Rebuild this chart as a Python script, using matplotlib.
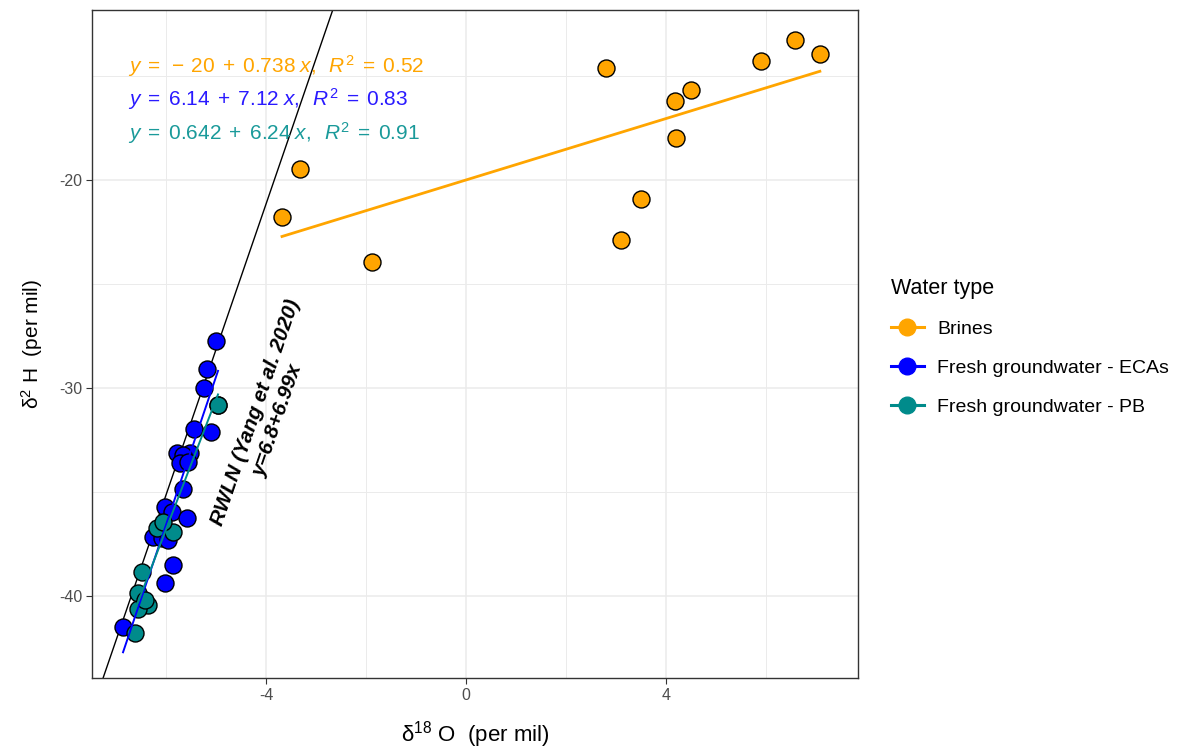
import numpy as np
import matplotlib
matplotlib.use("Agg")
import matplotlib.pyplot as plt
from matplotlib.lines import Line2D

plt.rcParams["font.family"] = ["Liberation Sans", "DejaVu Sans"]
plt.rcParams["mathtext.fontset"] = "custom"
plt.rcParams["mathtext.rm"] = "Liberation Sans"
plt.rcParams["mathtext.it"] = "Liberation Sans:italic"
plt.rcParams["mathtext.bf"] = "Liberation Sans:bold"
plt.rcParams["axes.unicode_minus"] = False

# -----------------------------
# Isotope data (d18O, d2H)
# -----------------------------
brines_o = [-3.68, -3.32, -1.88, 2.80, 3.10, 3.50, 4.18, 4.20, 4.50, 5.90, 6.58, 7.08]
brines_h = [-21.78, -19.47, -23.94, -14.62, -22.88, -20.91, -16.20, -17.98, -15.67, -14.28, -13.27, -13.94]

eca_o = [-5.00, -5.18, -5.24, -4.96, -5.44, -5.10, -5.78, -5.52, -5.66, -5.72, -5.56,
         -5.66, -6.02, -5.88, -5.58, -6.26, -6.08, -5.96, -5.86, -6.02, -6.86]
eca_h = [-27.74, -29.09, -30.00, -30.82, -31.97, -32.12, -33.13, -33.13, -33.22, -33.61, -33.56,
         -34.86, -35.72, -35.96, -36.25, -37.16, -37.21, -37.31, -38.51, -39.38, -41.49]

pb_o = [-4.96, -6.18, -5.86, -6.06, -6.48, -6.56, -6.36, -6.56, -6.42, -6.62]
pb_h = [-30.82, -36.73, -36.92, -36.44, -38.85, -39.86, -40.43, -40.63, -40.19, -41.78]

# fitted lines (intercept, slope) per group
fits = {
    "Brines": (-20.0, 0.738),
    "Fresh groundwater - ECAs": (6.14, 7.12),
    "Fresh groundwater - PB": (0.642, 6.24),
}
eq_labels = [
    r"$y\;=\;-\,20\;+\;0.738\;x,\;\;R^2\;=\;0.52$",
    r"$y\;=\;6.14\;+\;7.12\;x,\;\;R^2\;=\;0.83$",
    r"$y\;=\;0.642\;+\;6.24\;x,\;\;R^2\;=\;0.91$",
]

# regional water line
rwl_a, rwl_b = 6.8, 6.99

colors = {
    "Brines": "#FFA500",
    "Fresh groundwater - ECAs": "#0000FF",
    "Fresh groundwater - PB": "#008B8B",
}
eq_colors = ["#FFA500", "#2A1AFF", "#1A9A9A"]

groups = [
    ("Brines", brines_o, brines_h),
    ("Fresh groundwater - ECAs", eca_o, eca_h),
    ("Fresh groundwater - PB", pb_o, pb_h),
]

# -----------------------------
# Figure
# -----------------------------
fig = plt.figure(figsize=(11.8, 7.49), dpi=100)
ax = fig.add_axes([0.078, 0.0948, 0.649, 0.8918])

xlim = (-7.48, 7.84)
ylim = (-43.94, -11.83)
ax.set_xlim(xlim)
ax.set_ylim(ylim)

ax.set_xticks([-4, 0, 4])
ax.set_xticks([-6, -2, 2, 6], minor=True)
ax.set_yticks([-40, -30, -20])
ax.set_yticks([-35, -25, -15], minor=True)
ax.grid(which="major", color="#EBEBEB", linewidth=1.1, zorder=0)
ax.grid(which="minor", color="#EBEBEB", linewidth=0.7, zorder=0)
ax.set_axisbelow(True)

for s in ax.spines.values():
    s.set_color("#333333")
    s.set_linewidth(1.0)
ax.tick_params(which="major", length=4, width=0.8, color="#333333",
               labelsize=11.5, labelcolor="#4D4D4D", pad=3)
ax.tick_params(which="minor", length=0)

# RWL line
xx = np.array(xlim)
ax.plot(xx, rwl_a + rwl_b * xx, color="black", linewidth=1.0, zorder=2)

# points
for name, xo, yh in groups:
    ax.scatter(xo, yh, s=150, facecolor=colors[name], edgecolor="black",
               linewidth=1.0, zorder=3)

# regression lines
for name, xo, yh in groups:
    a, b = fits[name]
    xs = np.array([min(xo), max(xo)])
    lw = 2.0 if name == "Brines" else 1.4
    ax.plot(xs, a + b * xs, color=colors[name], linewidth=lw, zorder=4)

# equations
eq_y = [-14.52, -16.11, -17.74]
for lab, yv, c in zip(eq_labels, eq_y, eq_colors):
    ax.text(-6.76, yv, lab, color=c, fontsize=15, ha="left", va="center", zorder=5)

ax.text(-3.98, -31.35, "RWLN (Yang et al. 2020)\ny=6.8+6.99x", rotation=71,
        fontsize=15, fontweight="bold", fontstyle="italic", ha="center",
        va="center", multialignment="center", linespacing=1.3,
        rotation_mode="anchor", zorder=5)

ax.set_xlabel("δ$^{18}$ O  (per mil)", fontsize=16, labelpad=12)
ax.set_ylabel("δ$^{2}$ H  (per mil)", fontsize=15, labelpad=10)

# legend
handles = [Line2D([0], [0], color=colors[n], marker="o", markersize=12,
                  markeredgecolor=colors[n], linewidth=2.2) for n, _, _ in groups]
leg = fig.legend(handles, [n for n, _, _ in groups], title="Water type",
                 loc="upper left", bbox_to_anchor=(0.740, 0.652), frameon=False,
                 fontsize=14, title_fontsize=15.5, handlelength=1.7,
                 handletextpad=0.7, labelspacing=1.1, alignment="left")

fig.savefig("out.png", dpi=100)
